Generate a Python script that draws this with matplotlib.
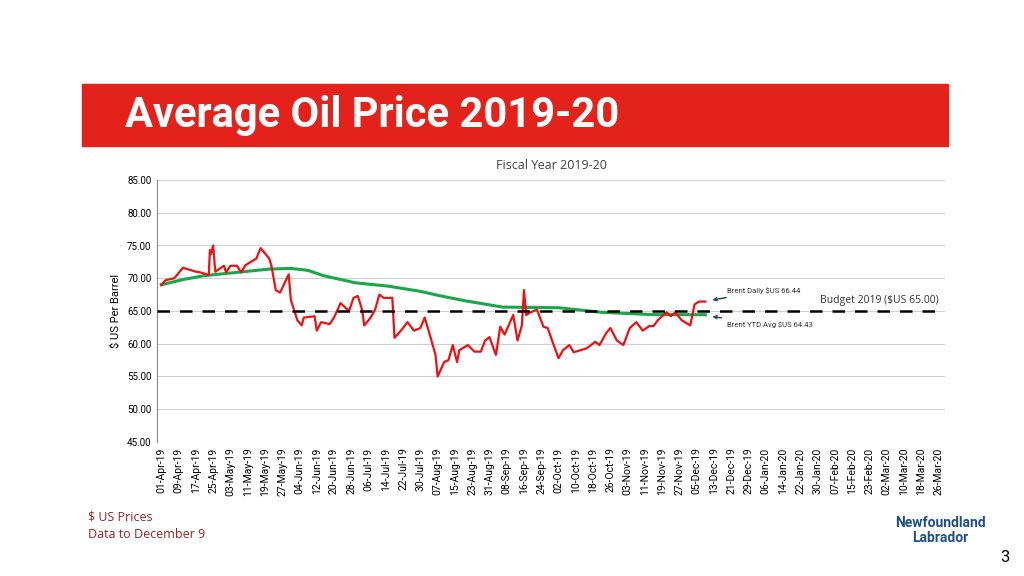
import numpy as np
import pandas as pd
import matplotlib.pyplot as plt
from matplotlib.patches import Rectangle

plt.rcParams['font.family'] = 'Roboto'

# Brent daily price, days after 01-Apr-19
brent_day = [0, 2, 6, 10, 13, 16, 18, 22, 22.5, 23, 24, 25, 29, 30, 32, 35, 37, 39, 44, 46,
             50, 51, 53, 55, 59, 60, 63, 65, 66, 71, 72, 74, 78, 80, 83, 87, 89, 91, 93, 94,
             97, 99, 101, 103, 107, 108, 111, 114, 117, 120, 122, 124, 127, 128, 131, 133,
             135, 137, 138, 142, 145, 148, 150, 152, 155, 157, 159, 163, 165, 167, 168, 169,
             171, 174, 177, 179, 181, 184, 186, 189, 191, 194, 197, 201, 203, 206, 208, 211,
             214, 217, 220, 223, 226, 228, 230, 234, 236, 238, 241, 245, 247, 249, 252]
brent_val = [69.0, 69.7, 70.0, 71.6, 71.3, 71.0, 70.9, 70.5, 74.3, 73.7, 75.0, 71.0, 71.9, 70.9,
             71.9, 71.9, 70.9, 72.0, 73.0, 74.6, 73.0, 71.9, 68.2, 67.8, 70.6, 66.7, 63.6, 62.8,
             64.0, 64.2, 62.0, 63.3, 63.0, 64.0, 66.2, 65.0, 67.0, 67.3, 65.2, 62.8, 64.0, 65.2,
             67.5, 67.0, 67.0, 60.9, 62.0, 63.3, 62.0, 62.4, 64.0, 61.8, 58.3, 55.0, 57.2, 57.5,
             59.8, 57.2, 59.0, 59.8, 58.8, 58.8, 60.5, 61.0, 58.3, 62.6, 61.4, 64.4, 60.5, 62.8,
             68.2, 64.4, 64.8, 65.2, 62.6, 62.4, 60.5, 57.8, 59.0, 59.8, 58.7, 59.0, 59.3, 60.3,
             59.8, 61.6, 62.4, 60.5, 59.8, 62.4, 63.3, 62.0, 62.7, 62.7, 63.6, 64.8, 64.2, 64.8,
             63.6, 62.8, 66.0, 66.44, 66.44]

# YTD average
ytd_day = [0, 10, 20, 35, 50, 60, 68, 75, 90, 105, 120, 128, 140, 158, 184, 204, 227, 252]
ytd_val = [69.0, 69.8, 70.4, 70.9, 71.4, 71.5, 71.2, 70.4, 69.3, 68.8, 68.0, 67.4, 66.6,
           65.6, 65.5, 64.8, 64.45, 64.43]

budget = 65.0
tick_dates = pd.date_range('2019-04-01', '2020-03-26', freq='8D')

fig = plt.figure(figsize=(10.24, 5.76), dpi=100)
fig.patches.append(Rectangle((82 / 1024, 1 - 146 / 576), 866 / 1024, 62 / 576,
                             transform=fig.transFigure, color='#e3231b', zorder=0))
fig.text(125 / 1024, 1 - 115 / 576, 'Average Oil Price 2019-20', color='white',
         fontsize=30, fontweight='bold', va='center')

ax = fig.add_axes([157 / 1024, 1 - 442 / 576, 788 / 1024, 262 / 576])
ax.plot(ytd_day, ytd_val, color='#1aa64a', lw=2.2, zorder=3)
ax.plot(brent_day, brent_val, color='#ee1111', lw=1.6, zorder=4)
ax.axhline(budget, color='black', ls=(0, (5, 4)), lw=1.8, zorder=5)

ax.set_xlim(-2, 363)
ax.set_ylim(45, 85)
ax.set_yticks(np.arange(45, 86, 5))
ax.set_yticklabels([f'{v:.2f}' for v in np.arange(45, 86, 5)], fontsize=7)
ax.set_xticks([(d - tick_dates[0]).days for d in tick_dates])
ax.set_xticklabels([d.strftime('%d-%b-%y') for d in tick_dates], rotation=90, fontsize=7.5)
ax.tick_params(length=0, pad=4)
ax.grid(axis='y', color='#d0d0d0', lw=0.8)
for s in ['top', 'right', 'bottom']:
    ax.spines[s].set_visible(False)
ax.spines['left'].set_color('#888888')
ax.set_ylabel('$ US Per Barrel', fontsize=8)
ax.set_title('Fiscal Year 2019-20', fontsize=9, color='#404040', pad=8, family='Open Sans')

ax.annotate('Brent Daily $US 66.44', xy=(254, 66.6), xytext=(262, 67.7), fontsize=5.5,
            color='#333333', arrowprops=dict(arrowstyle='->', color='#1f3a6e', lw=1))
ax.annotate('Brent YTD Avg $US 64.43', xy=(254, 64.2), xytext=(262, 62.6), fontsize=5.5,
            color='#333333', arrowprops=dict(arrowstyle='->', color='#1f3a6e', lw=1))
ax.text(360, 66.2, 'Budget 2019 ($US 65.00)', fontsize=7.5, ha='right', color='#333333',
        family='Open Sans')

fig.text(88 / 1024, 1 - 517 / 576, '$ US Prices', fontsize=9, color='#a02020', va='center',
         family='Open Sans')
fig.text(88 / 1024, 1 - 535 / 576, 'Data to December 9', fontsize=9, color='#a02020',
         va='center', family='Open Sans')
fig.text(940 / 1024, 1 - 523 / 576, 'Newfoundland', fontsize=10, color='#1f4e8c',
         ha='center', va='center', fontweight='bold')
fig.text(940 / 1024, 1 - 538 / 576, 'Labrador', fontsize=10, color='#1f4e8c',
         ha='center', va='center', fontweight='bold')
fig.text(1010 / 1024, 1 - 558 / 576, '3', fontsize=12, ha='right', va='center')

fig.savefig('out.png', dpi=100)
